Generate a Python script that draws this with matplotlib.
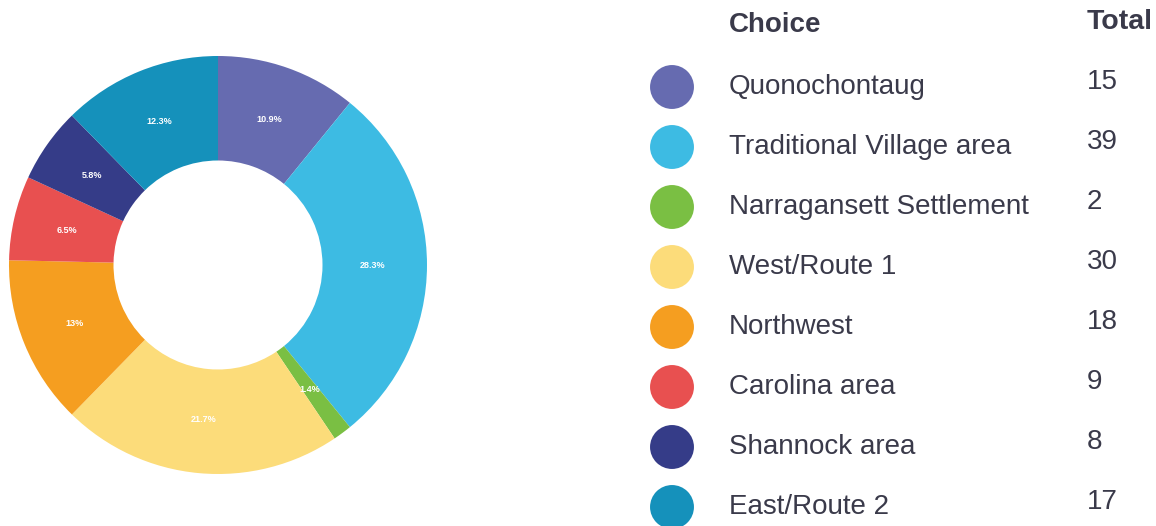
import matplotlib.pyplot as plt

# --- DATA ---
choices = ['Quonochontaug', 'Traditional Village area', 'Narragansett Settlement',
           'West/Route 1', 'Northwest', 'Carolina area', 'Shannock area', 'East/Route 2']
totals = [15, 39, 2, 30, 18, 9, 8, 17]
colors = ['#666bb0', '#3dbbe3', '#7abf43', '#fcdc7a', '#f59e20', '#e85050', '#353c88', '#1591bb']

TEXT_COLOR = '#3a3a4a'
W, H = 1156, 526

plt.rcParams['font.family'] = ['Liberation Sans', 'DejaVu Sans']
fig = plt.figure(figsize=(W / 100, H / 100), dpi=100)


def pct_label(p):
    s = f'{p:.1f}'
    if s.endswith('.0'):
        s = s[:-2]
    return s + '%'


# --- DONUT ---
cx, cy, r = 218, 265, 209
ax = fig.add_axes([(cx - r) / W, (H - cy - r) / H, 2 * r / W, 2 * r / H])
wedges, texts, autotexts = ax.pie(
    totals, colors=colors, startangle=90, counterclock=False,
    autopct=pct_label, pctdistance=0.74,
    wedgeprops=dict(width=0.5, edgecolor='none'),
    textprops=dict(color='white', fontsize=6.5, fontweight='bold'))
ax.set_xlim(-1, 1)
ax.set_ylim(-1, 1)

# --- LEGEND TABLE ---
lax = fig.add_axes([0, 0, 1, 1])
lax.set_xlim(0, W)
lax.set_ylim(H, 0)
lax.axis('off')

lax.text(729, 25, 'Choice', fontsize=20, fontweight='bold', color=TEXT_COLOR, va='center')
lax.text(1087, 22, 'Total', fontsize=20.5, fontweight='bold', color=TEXT_COLOR, va='center')

row_y = [87 + 60 * i for i in range(len(choices))]
lax.scatter([672] * len(choices), row_y, s=1000, c=colors, edgecolors='none')
for y, name, tot in zip(row_y, choices, totals):
    lax.text(729, y, name, fontsize=20, color=TEXT_COLOR, va='center')
    lax.text(1087, y - 5, str(tot), fontsize=20, color=TEXT_COLOR, va='center')

plt.savefig('out.png', dpi=100)
